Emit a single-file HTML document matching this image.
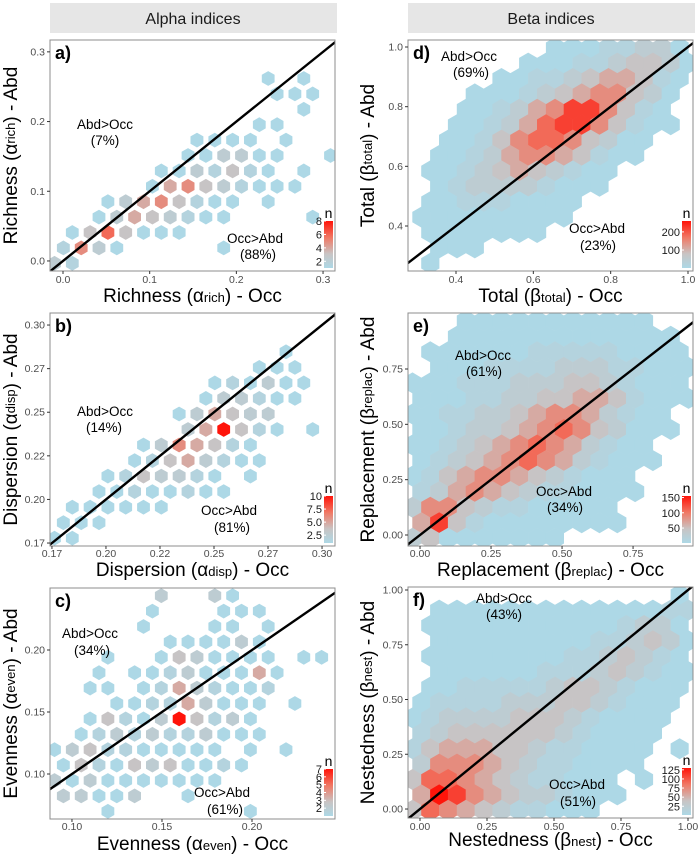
<!DOCTYPE html>
<html><head><meta charset="utf-8"><title>Alpha and beta indices hexbin plots</title>
<style>
html,body{margin:0;padding:0;background:#fff;width:700px;height:862px;overflow:hidden;}
svg{display:block;font-family:"Liberation Sans",Arial,sans-serif;overflow:hidden;}
</style></head>
<body>
<svg id="fig" width="700" height="862" viewBox="0 0 700 862" xmlns="http://www.w3.org/2000/svg">
<defs>
<linearGradient id="ngrad" x1="0" y1="1" x2="0" y2="0">
<stop offset="0" stop-color="#add8e6"/><stop offset="0.3" stop-color="#c8c4c4"/><stop offset="0.65" stop-color="#f07864"/><stop offset="1" stop-color="#ff140a"/>
</linearGradient>
</defs>
<rect x="50" y="3" width="287" height="30" fill="#e6e6e6"/>
<text x="193" y="24" font-size="16" text-anchor="middle" fill="#1a1a1a">Alpha indices</text>
<rect x="408" y="3" width="287" height="30" fill="#e6e6e6"/>
<text x="551" y="24" font-size="16" text-anchor="middle" fill="#1a1a1a">Beta indices</text>
<g id="panels"></g>
</svg>
<script>
// ---- data: hexbin count levels (rows top->bottom, 16 cols) ----
const aGrid = [
[0,0,0,0,0,0,0,0,0,0,0,0,0,0,0,0],
[0,0,0,0,0,0,0,0,0,0,0,0,0,0,0,0],
[0,0,0,0,0,0,0,0,0,0,0,0,1,0,1,0],
[0,0,0,0,0,0,0,0,0,0,0,0,1,1,1,0],
[0,0,0,0,0,0,0,0,0,0,0,0,0,0,1,0],
[0,0,0,0,0,0,0,0,0,0,0,1,1,0,0,0],
[0,0,0,0,0,0,0,0,1,1,1,1,0,1,0,0],
[0,0,0,0,0,0,0,1,1,3,3,1,1,0,0,1],
[0,0,0,0,0,0,1,1,3,2,4,2,1,0,1,0],
[0,0,0,0,0,1,5,6,4,3,2,1,1,1,0,0],
[0,0,0,1,3,5,6,4,2,1,1,0,1,0,0,0],
[0,0,1,3,5,4,3,2,1,1,0,0,0,0,1,0],
[0,1,4,7,4,1,1,1,0,0,0,0,0,0,0,0],
[2,6,3,1,0,0,0,0,0,1,0,0,0,0,0,0],
[3,2,0,0,0,0,0,0,0,0,0,0,0,0,0,0]];
const bGrid = [
[0,0,0,0,0,0,0,0,0,0,0,0,0,0,0,0],
[0,0,0,0,0,0,0,0,0,0,0,0,0,0,0,0],
[0,0,0,0,0,0,0,0,0,0,0,0,0,1,0,0],
[0,0,0,0,0,0,0,0,0,0,0,1,1,1,0,0],
[0,0,0,0,0,0,0,0,0,1,2,1,3,1,1,0],
[0,0,0,0,0,0,0,0,1,3,3,2,1,1,0,0],
[0,0,0,0,0,0,0,1,3,5,4,3,3,0,0,0],
[0,0,0,0,0,0,0,3,5,9,4,2,1,0,1,0],
[0,0,0,0,0,1,3,6,5,4,2,1,0,0,0,0],
[0,0,0,0,1,2,4,5,3,2,1,1,0,0,0,0],
[0,0,0,1,2,4,3,3,2,1,0,1,0,0,0,0],
[0,0,1,1,2,1,1,2,1,1,0,0,0,0,0,0],
[0,1,1,1,1,1,1,0,0,0,0,0,0,0,0,0],
[1,1,1,0,0,0,0,0,0,0,0,0,0,0,0,0],
[1,1,0,0,0,0,0,0,0,0,0,0,0,0,0,0]];
const cGrid = [
[0,0,0,0,0,0,3,0,0,3,1,0,0,0,0,0],
[0,0,0,0,0,1,0,0,0,1,1,1,0,0,0,0],
[0,0,0,0,0,1,0,0,0,1,1,0,1,0,0,0],
[0,0,0,0,0,0,1,1,1,1,3,1,0,0,0,0],
[0,0,0,1,0,0,1,4,3,1,1,1,1,0,1,1],
[0,0,1,0,1,1,2,3,1,1,1,5,1,0,0,0],
[0,0,1,1,0,1,2,5,3,2,1,1,2,0,0,0],
[0,0,0,1,1,2,2,5,3,1,1,1,0,1,0,0],
[0,0,1,4,2,1,3,9,4,2,3,1,0,0,0,0],
[0,1,2,3,2,3,2,2,3,1,1,1,0,0,0,0],
[1,3,4,2,2,1,1,1,1,1,0,1,0,1,0,0],
[1,4,2,1,4,3,4,1,1,2,1,0,0,0,0,0],
[3,1,3,1,1,1,1,1,1,1,0,0,0,0,0,0],
[3,3,1,1,3,0,0,1,0,0,0,0,0,0,0,0],
[0,0,0,1,0,0,0,0,0,0,0,1,0,0,0,0]];
const dGrid = [
[0,0,0,0,0,0,0,0,1,1,1,2,2,3,3,1],
[0,0,0,0,0,0,1,1,1,2,2,3,4,4,3,1],
[0,0,0,0,0,1,1,2,2,3,4,5,5,4,2,1],
[0,0,0,1,1,1,2,3,4,5,6,6,4,3,1,0],
[0,0,0,1,1,2,3,5,6,8,8,6,4,2,1,0],
[0,0,1,1,2,3,5,7,8,8,6,4,2,1,1,0],
[0,0,1,1,2,4,6,7,7,6,4,3,1,1,0,0],
[0,1,1,2,3,5,6,6,5,4,2,1,1,0,0,0],
[0,1,1,2,3,4,5,4,3,2,1,1,0,0,0,0],
[0,1,2,3,3,3,3,2,1,1,1,0,0,0,0,0],
[0,1,1,2,2,2,1,1,1,1,0,0,0,0,0,0],
[1,1,1,1,1,1,1,1,1,0,0,0,0,0,0,0],
[0,1,1,1,1,1,1,1,0,0,0,0,0,0,0,0],
[0,1,1,1,0,0,0,0,0,0,0,0,0,0,0,0],
[0,1,0,0,0,0,0,0,0,0,0,0,0,0,0,0]];
const eGrid = [
[0,0,0,1,1,1,1,1,1,1,1,1,1,1,0,0],
[0,0,1,1,1,1,1,1,1,1,1,1,1,1,1,0],
[0,1,1,1,1,1,1,2,2,2,2,2,1,1,1,1],
[0,1,1,1,2,2,2,2,3,3,3,2,2,1,1,1],
[1,1,1,2,2,2,3,3,3,4,4,3,2,1,1,1],
[1,1,1,2,2,3,3,4,4,5,5,4,2,1,1,1],
[1,1,2,2,3,3,4,5,6,6,5,3,2,1,1,0],
[1,1,2,3,3,4,5,6,7,6,4,3,1,1,1,0],
[1,1,2,3,4,5,6,7,6,5,3,2,1,1,0,0],
[1,2,3,4,5,6,7,6,5,3,2,1,1,1,0,0],
[1,2,4,5,6,6,5,4,3,2,1,1,1,0,0,0],
[2,3,5,6,5,4,3,2,2,1,1,1,1,0,0,0],
[3,6,6,4,3,2,2,1,1,1,1,1,0,0,0,0],
[5,8,4,2,1,1,1,1,1,1,1,1,0,0,0,0],
[3,4,1,1,1,1,1,1,1,0,0,0,0,0,0,0]];
const fGrid = [
[0,0,0,0,0,0,0,0,0,0,0,0,0,0,0,1],
[0,1,1,1,1,1,1,1,1,1,1,1,1,1,2,2],
[0,1,1,1,1,1,1,1,1,1,1,1,2,3,3,1],
[0,1,1,1,1,1,1,1,1,1,2,2,3,4,3,1],
[0,1,1,1,1,1,1,1,1,2,2,3,4,3,2,1],
[0,1,1,1,1,1,1,2,2,2,3,4,3,2,1,1],
[0,1,1,2,2,2,2,2,3,4,4,3,2,1,1,1],
[1,2,2,2,2,3,3,3,4,4,3,2,1,1,1,0],
[1,2,3,3,3,3,4,4,4,3,2,1,1,1,1,0],
[2,3,4,4,4,4,4,4,3,2,1,1,1,1,0,0],
[2,4,5,5,5,4,4,3,2,2,1,1,1,1,0,1],
[3,6,6,6,5,4,3,2,2,1,1,1,1,0,0,0],
[4,7,7,6,5,4,3,2,2,1,1,1,0,1,0,0],
[5,9,8,6,5,4,3,3,2,1,1,1,0,0,0,0],
[4,7,6,5,4,3,2,2,1,1,1,0,0,0,0,0]];
// tick values and labels
const aTicks = [0, 0.1, 0.2, 0.3];
const aTickLabels = ["0.0","0.1","0.2","0.3"];
const bTicks = [0.175, 0.2, 0.225, 0.25, 0.275, 0.3];
const bTickLabels = ["0.17","0.20","0.22","0.25","0.27","0.30"];
const cTicks = [0.10, 0.15, 0.20];
const cTickLabels = ["0.10","0.15","0.20"];
const dTicks = [0.4, 0.6, 0.8, 1.0];
const dTickLabels = ["0.4","0.6","0.8","1.0"];
const eTicks = [0, 0.25, 0.5, 0.75];
const eTickLabels = ["0.00","0.25","0.50","0.75"];
const fTicks = [0, 0.25, 0.5, 0.75, 1.0];
const fTickLabels = ["0.00","0.25","0.50","0.75","1.00"];
// legend ranges and labels
const aLegendRange = [1, 8];   const aLegendTicks = [2,4,6,8];
const bLegendRange = [1, 10];  const bLegendTicks = [2.5,5,7.5,10]; const bLegendLabels = ["2.5","5.0","7.5","10"];
const cLegendRange = [1, 7];   const cLegendTicks = [2,3,4,5,6,7];
const dLegendRange = [1, 260]; const dLegendTicks = [100,200];
const eLegendRange = [1, 155]; const eLegendTicks = [50,100,150];
const fLegendRange = [1, 130]; const fLegendTicks = [25,50,75,100,125];
// annotations
const aNotes = ["Abd>Occ","(7%)","Occ>Abd","(88%)"];
const bNotes = ["Abd>Occ","(14%)","Occ>Abd","(81%)"];
const cNotes = ["Abd>Occ","(34%)","Occ>Abd","(61%)"];
const dNotes = ["Abd>Occ","(69%)","Occ>Abd","(23%)"];
const eNotes = ["Abd>Occ","(61%)","Occ>Abd","(34%)"];
const fNotes = ["Abd>Occ","(43%)","Occ>Abd","(51%)"];

const NS = "http://www.w3.org/2000/svg";
const root = document.getElementById("panels");
function mk(tag, attrs, parent){ const e=document.createElementNS(NS,tag); for(const k in attrs) e.setAttribute(k,attrs[k]); (parent||root).appendChild(e); return e; }
function lerp(a,b,t){return a+(b-a)*t;}
const stops=[[0,[173,216,230]],[0.3,[200,196,196]],[0.65,[240,120,100]],[1,[255,20,10]]];
function colorAt(t){ t=Math.max(0,Math.min(1,t)); for(let i=0;i<stops.length-1;i++){const [t0,c0]=stops[i],[t1,c1]=stops[i+1]; if(t<=t1){const u=(t-t0)/(t1-t0); return "rgb("+c0.map((v,k)=>Math.round(lerp(v,c1[k],u))).join(",")+")";}} return "rgb(255,20,10)"; }

const panels = [
 {key:"a",letter:"a)",box:[50,40,335,271],xd:[-0.015,0.3138],yd:[-0.0144,0.317],grid:aGrid,ticks:aTicks,labels:aTickLabels,lr:aLegendRange,lt:aLegendTicks,ll:null,notes:aNotes,hs:0.72,
  name:"Richness",greek:"α",sub:"rich",ytx:12,xty:302,tly:283,np:[[105,124],[105,140],[255,238],[258,254]]},
 {key:"b",letter:"b)",box:[50,313,335,546],xd:[0.1741,0.3060],yd:[0.1733,0.3069],grid:bGrid,ticks:bTicks,labels:bTickLabels,lr:bLegendRange,lt:bLegendTicks,ll:bLegendLabels,notes:bNotes,hs:0.72,
  name:"Dispersion",greek:"α",sub:"disp",ytx:12,xty:576,tly:557,np:[[105,411],[104,427],[229,510],[232,527]]},
 {key:"c",letter:"c)",box:[50,588,335,819],xd:[0.0878,0.2461],yd:[0.0637,0.25],grid:cGrid,ticks:cTicks,labels:cTickLabels,lr:cLegendRange,lt:cLegendTicks,ll:null,notes:cNotes,hs:0.72,
  name:"Evenness",greek:"α",sub:"even",ytx:12,xty:850,tly:830,np:[[90,633],[92,650],[222,792],[225,809]]},
 {key:"d",letter:"d)",box:[408,40,693,271],xd:[0.2759,1.0129],yd:[0.2491,1.0235],grid:dGrid,ticks:dTicks,labels:dTickLabels,lr:dLegendRange,lt:dLegendTicks,ll:null,notes:dNotes,hs:1.02,
  name:"Total",greek:"β",sub:"total",ytx:369,xty:302,tly:283,np:[[469,56],[471,72],[597,228],[598,245]]},
 {key:"e",letter:"e)",box:[408,313,693,546],xd:[-0.0423,0.961],yd:[-0.0497,1.003],grid:eGrid,ticks:eTicks,labels:eTickLabels,lr:eLegendRange,lt:eLegendTicks,ll:null,notes:eNotes,hs:1.02,
  name:"Replacement",greek:"β",sub:"replac",ytx:369,xty:576,tly:557,np:[[483,355],[484,371],[564,491],[565,507]]},
 {key:"f",letter:"f)",box:[408,587,693,818],xd:[-0.0448,1.0187],yd:[-0.041,1.0137],grid:fGrid,ticks:fTicks,labels:fTickLabels,lr:fLegendRange,lt:fLegendTicks,ll:null,notes:fNotes,hs:1.02,
  name:"Nestedness",greek:"β",sub:"nest",ytx:369,xty:846,tly:830,np:[[504,598],[504,614],[577,784],[578,801]]}
];

panels.forEach(p=>{
  const [x0,y0,x1,y1]=p.box;
  const xs=v=>x0+(v-p.xd[0])/(p.xd[1]-p.xd[0])*(x1-x0);
  const ys=v=>y1-(v-p.yd[0])/(p.yd[1]-p.yd[0])*(y1-y0);
  const g=mk("g",{});
  
  
  const clipId="clip"+p.key;
  const cp=mk("clipPath",{id:clipId},g); mk("rect",{x:x0,y:y0,width:x1-x0,height:y1-y0},cp);
  const hexG=mk("g",{"clip-path":"url(#"+clipId+")"},g);
  
  
  const R=p.grid.length, C=p.grid[0].length;
  const dx=(p.xd[1]-p.xd[0])/C, dy=(p.yd[1]-p.yd[0])/R;
  const wpx=(x1-x0)/C*p.hs, r=wpx/Math.sqrt(3);
  for(let j=0;j<R;j++){ for(let i=0;i<C;i++){
    const lv=p.grid[j][i]; if(!lv) continue;
    const vx=p.xd[0]+(i+0.25+(j%2)*0.5)*dx, vy=p.yd[1]-(j+0.5)*dy;
    const cx=xs(vx), cy=ys(vy);
    let pts=[]; for(let k=0;k<6;k++){const a=Math.PI/180*(60*k-90); pts.push((cx+r*Math.cos(a)).toFixed(1)+","+(cy+r*Math.sin(a)).toFixed(1));}
    const h=mk("polygon",{points:pts.join(" "),fill:colorAt(Math.pow((lv-1)/8,1.25))},hexG);
    
    
  }}
  const lo=-1, hi=2;
  const ln=mk("line",{x1:xs(lo),y1:ys(lo),x2:xs(hi),y2:ys(hi),stroke:"#000","stroke-width":2.4,"clip-path":"url(#"+clipId+")"},g);
  
  
  const border=mk("rect",{x:x0,y:y0,width:x1-x0,height:y1-y0,fill:"none",stroke:"#8c8c8c","stroke-width":1},g);
  
  
  p.ticks.forEach((t,k)=>{
    const tx=xs(t);
    mk("line",{x1:tx,y1:y1,x2:tx,y2:y1+3,stroke:"#333"},g);
    const lx=mk("text",{x:tx,y:p.tly,"font-size":10.5,"text-anchor":"middle",fill:"#4d4d4d"},g); lx.textContent=p.labels[k];
    
    
    const ty=ys(t);
    mk("line",{x1:x0-3,y1:ty,x2:x0,y2:ty,stroke:"#333"},g);
    const ly=mk("text",{x:x0-5,y:ty+3.5,"font-size":10.5,"text-anchor":"end",fill:"#4d4d4d"},g); ly.textContent=p.labels[k];
    
    
  });
  const xt=mk("text",{x:(x0+x1)/2,y:p.xty,"font-size":19,"text-anchor":"middle",fill:"#000"},g);
  xt.innerHTML=p.name+' ('+p.greek+'<tspan font-size="13">'+p.sub+'</tspan>) - Occ';
  
  
  const cyT=(y0+y1)/2;
  const yt=mk("text",{x:p.ytx,y:cyT,"font-size":19,"text-anchor":"middle",fill:"#000","dominant-baseline":"middle",transform:"rotate(-90 "+p.ytx+" "+cyT+")"},g);
  yt.innerHTML=p.name+' ('+p.greek+'<tspan font-size="13">'+p.sub+'</tspan>) - Abd';
  
  
  const pl=mk("text",{x:x0+5,y:y0+19,"font-size":18,"font-weight":"bold",fill:"#000"},g); pl.textContent=p.letter;
  
  
  p.notes.forEach((s,k)=>{
    const t=mk("text",{x:p.np[k][0],y:p.np[k][1]+5,"font-size":13.5,"text-anchor":"middle",fill:"#000"},g); t.textContent=s;
    
    
  });
  const bx=x1-11, bw=9, bb=y1-3, bt=y1-50;
  const lg=mk("g",{},g);
  
  
  mk("rect",{x:bx,y:bt,width:bw,height:bb-bt,fill:"url(#ngrad)"},lg);
  const nt=mk("text",{x:bx+bw/2,y:bt-3,"font-size":14,"text-anchor":"middle",fill:"#000"},lg); nt.textContent="n";
  p.lt.forEach((v,k)=>{
    const ty=bb-(v-p.lr[0])/(p.lr[1]-p.lr[0])*(bb-bt);
    mk("line",{x1:bx,y1:ty,x2:bx+2,y2:ty,stroke:"#fff"},lg);
    const lt=mk("text",{x:bx-2,y:ty+4,"font-size":11,"text-anchor":"end",fill:"#1a1a1a"},lg);
    lt.textContent=p.ll?p.ll[k]:String(v);
    
    
  });
});
</script>
</body></html>
